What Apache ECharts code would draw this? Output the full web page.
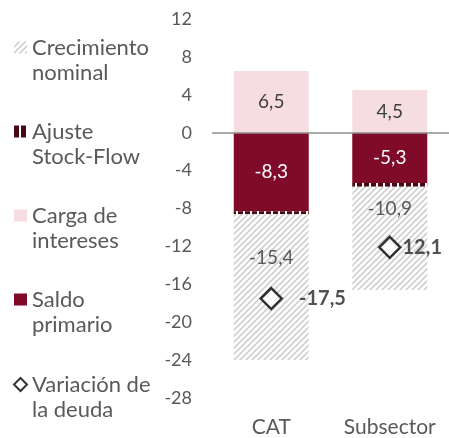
<!DOCTYPE html>
<html><head><meta charset="utf-8">
<script src="https://cdn.jsdelivr.net/npm/echarts@6/dist/echarts.min.js"></script>
<style>html,body{margin:0;padding:0;background:#fff}#c{width:449px;height:438px}</style>
</head><body><div id="c"></div>
<script>
const categories = ['CAT', 'Subsector'];
const crecimientoNominal = [-15.4, -10.9];
const ajusteStockFlow = [-0.3, -0.4];
const cargaIntereses = [6.5, 4.5];
const saldoPrimario = [-8.3, -5.3];
const variacionDeuda = [-17.5, -12.1];
const variacionLabels = ['-17,5', '12,1'];
const yMin = -28, yMax = 12, yInterval = 4;
const legendNames = ['Crecimiento nominal', 'Ajuste Stock-Flow', 'Carga de intereses', 'Saldo primario', 'Variación de la deuda'];
const legendLines = {
  'Crecimiento nominal': 'Crecimiento\nnominal',
  'Ajuste Stock-Flow': 'Ajuste\nStock-Flow',
  'Carga de intereses': 'Carga de\nintereses',
  'Saldo primario': 'Saldo\nprimario',
  'Variación de la deuda': 'Variación de\nla deuda'
};

function hatchCanvas() {
  const c = document.createElement('canvas'); c.width = 6; c.height = 6;
  const g = c.getContext('2d');
  g.fillStyle = '#ffffff'; g.fillRect(0, 0, 6, 6);
  g.strokeStyle = '#d0d0d0'; g.lineWidth = 1.7;
  g.beginPath();
  g.moveTo(-1, 7); g.lineTo(7, -1);
  g.moveTo(-1, 1); g.lineTo(1, -1);
  g.moveTo(5, 7); g.lineTo(7, 5);
  g.stroke();
  return c;
}
function stripeCanvas() {
  const c = document.createElement('canvas'); c.width = 7; c.height = 7;
  const g = c.getContext('2d');
  g.fillStyle = '#ffffff'; g.fillRect(0, 0, 7, 7);
  g.fillStyle = '#4a0816'; g.fillRect(0, 0, 5, 7);
  return c;
}
const hatch = { image: hatchCanvas(), repeat: 'repeat' };
const stripes = { image: stripeCanvas(), repeat: 'repeat' };
const fmt = v => v.toFixed(1).replace('.', ',');
const FONT = 'Lato';
const GREY = '#595959';
const SQ = 'path://M0,0M13,50M0,6.5h13v12h-13z';

const chart = echarts.init(document.getElementById('c'), null, { renderer: 'canvas' });
chart.setOption({
  animation: false,
  backgroundColor: '#ffffff',
  grid: { left: 212, right: 0, top: 19, bottom: 40 },
  legend: {
    orient: 'vertical', left: 8, top: 30,
    itemWidth: 13, itemHeight: 50, itemGap: 34,
    textStyle: { fontFamily: FONT, fontSize: 22, color: GREY, lineHeight: 25 },
    formatter: n => legendLines[n],
    data: [
      { name: legendNames[0], icon: SQ },
      { name: legendNames[1], icon: SQ },
      { name: legendNames[2], icon: SQ },
      { name: legendNames[3], icon: SQ },
      { name: legendNames[4], icon: 'path://M0,0M13,50M6.5,6L13,12.5L6.5,19L0,12.5Z', itemStyle: { borderWidth: 2 } }
    ]
  },
  xAxis: {
    type: 'category', data: categories,
    axisLine: { show: false }, axisTick: { show: false },
    axisLabel: { interval: 0, hideOverlap: false, fontFamily: FONT, fontSize: 21, color: GREY, margin: 19 }
  },
  yAxis: {
    type: 'value', min: yMin, max: yMax, interval: yInterval,
    splitLine: { show: false }, axisLine: { show: false }, axisTick: { show: false },
    axisLabel: { fontFamily: FONT, fontSize: 18, color: GREY, margin: 20 }
  },
  series: [
    {
      name: legendNames[3], type: 'bar', stack: 'a', data: saldoPrimario, barWidth: 75,
      itemStyle: { color: '#7f0b28' },
      label: { show: true, position: 'inside', color: '#ffffff', fontFamily: FONT, fontSize: 19, formatter: p => fmt(p.value) },
      markLine: {
        silent: true, symbol: 'none', label: { show: false },
        lineStyle: { color: '#8c8c8c', type: 'solid', width: 1.5 },
        data: [{ yAxis: 0 }], z: 5
      }
    },
    {
      name: legendNames[1], type: 'bar', stack: 'a', data: ajusteStockFlow,
      itemStyle: { color: stripes }
    },
    {
      name: legendNames[0], type: 'bar', stack: 'a', data: crecimientoNominal,
      itemStyle: { color: hatch },
      label: { show: true, position: 'inside', offset: [0, -29], color: GREY, fontFamily: FONT, fontSize: 19, formatter: p => fmt(p.value) }
    },
    {
      name: legendNames[2], type: 'bar', stack: 'a', data: cargaIntereses,
      itemStyle: { color: '#f6dde1' },
      label: { show: true, position: 'inside', color: '#404040', fontFamily: FONT, fontSize: 19, formatter: p => fmt(p.value) }
    },
    {
      name: legendNames[4], type: 'scatter', symbol: 'diamond', symbolSize: 21, z: 10,
      itemStyle: { color: '#ffffff', borderColor: '#000000', borderWidth: 2.5 },
      data: variacionDeuda.map((v, i) => ({
        value: v,
        label: { offset: i === 0 ? [11, 0] : [-4, 0] }
      })),
      label: {
        show: true, position: 'right', color: '#262626', fontFamily: FONT, fontSize: 20, fontWeight: 'bold',
        formatter: p => variacionLabels[p.dataIndex]
      }
    }
  ]
});
</script>
</body></html>
